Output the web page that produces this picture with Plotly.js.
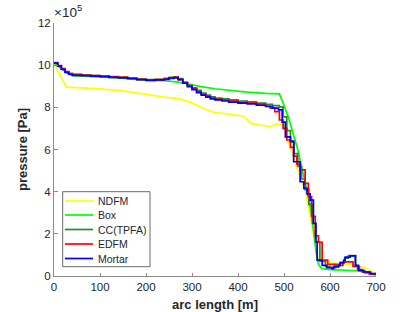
<!DOCTYPE html>
<html>
<head>
<meta charset="utf-8">
<script src="https://cdn.plot.ly/plotly-3.0.1.min.js"></script>
<style>
html,body{margin:0;padding:0;background:#fff;}
#chart{width:415px;height:312px;}
</style>
</head>
<body>
<div id="chart"></div>
<script>
// ---- data (pressure in units of 1e5 Pa) ----
var seriesNames = ["NDFM", "Box", "CC(TPFA)", "EDFM", "Mortar"];

var ndfmX = [0, 5, 27, 60, 100, 150, 200, 240, 275, 300, 320, 345, 380, 412, 420, 428, 450, 470, 483, 500, 503, 515, 530, 546, 556, 566, 575, 585, 600, 625, 650, 675, 690, 700];
var ndfmY = [10.1, 9.85, 8.96, 8.92, 8.88, 8.78, 8.6, 8.48, 8.4, 8.2, 8.0, 7.78, 7.68, 7.58, 7.4, 7.24, 7.15, 7.08, 7.2, 7.16, 6.8, 6.0, 5.0, 4.07, 3.0, 1.8, 0.75, 0.65, 0.62, 0.58, 0.5, 0.4, 0.22, 0.12];

var boxX = [0, 10, 20, 30, 40, 60, 100, 150, 200, 240, 270, 290, 320, 350, 380, 420, 460, 490, 500, 510, 520, 530, 540, 553, 560, 565, 570, 575, 582, 600, 660, 685, 700];
var boxY = [10.1, 9.92, 9.75, 9.6, 9.5, 9.48, 9.45, 9.38, 9.28, 9.26, 9.2, 9.1, 8.98, 8.88, 8.8, 8.72, 8.66, 8.64, 8.1, 7.5, 6.75, 6.0, 5.0, 3.76, 2.9, 2.0, 1.1, 0.55, 0.35, 0.3, 0.25, 0.15, 0.05];

var ccX = [0, 8, 16, 24, 32, 40, 60, 80, 100, 120, 140, 160, 180, 200, 220, 240, 250, 260, 270, 280, 290, 300, 310, 320, 330, 340, 350, 365, 380, 400, 420, 440, 460, 475, 490, 498, 506, 514, 522, 530, 538, 546, 554, 562, 570, 578, 590, 600, 612, 622, 632, 640, 656, 664, 676, 688, 700];
var ccY = [10.1, 9.96, 9.82, 9.68, 9.6, 9.56, 9.53, 9.51, 9.49, 9.46, 9.43, 9.39, 9.34, 9.31, 9.33, 9.38, 9.42, 9.45, 9.36, 9.2, 9.06, 8.93, 8.8, 8.68, 8.58, 8.5, 8.44, 8.4, 8.35, 8.3, 8.26, 8.2, 8.14, 8.08, 8.02, 7.55, 6.9, 6.35, 5.8, 5.2, 4.6, 4.1, 3.4, 2.5, 1.6, 0.7, 0.45, 0.4, 0.55, 0.65, 0.85, 0.97, 0.45, 0.25, 0.15, 0.08, 0.05];

var edfmX = [0, 8, 16, 24, 32, 40, 60, 80, 100, 120, 140, 160, 180, 200, 220, 240, 250, 260, 270, 280, 290, 300, 310, 320, 330, 340, 350, 365, 380, 400, 420, 440, 460, 470, 480, 490, 498, 506, 514, 521, 528, 535, 546, 553, 560, 568, 575, 583, 595, 610, 628, 650, 660, 670, 685, 700];
var edfmY = [10.12, 9.98, 9.84, 9.7, 9.6, 9.55, 9.52, 9.5, 9.48, 9.45, 9.42, 9.38, 9.33, 9.3, 9.31, 9.35, 9.4, 9.42, 9.3, 9.16, 9.0, 8.88, 8.74, 8.62, 8.52, 8.44, 8.38, 8.34, 8.3, 8.24, 8.2, 8.14, 8.06, 7.96, 7.8, 7.4, 7.0, 6.45, 6.1, 5.69, 5.3, 5.03, 4.39, 3.76, 2.83, 1.9, 1.6, 0.75, 0.55, 0.5, 0.67, 0.45, 0.3, 0.2, 0.1, 0.05];

var mortarX = [0, 8, 16, 24, 32, 40, 60, 80, 100, 120, 140, 160, 180, 200, 220, 240, 250, 260, 270, 280, 290, 300, 310, 320, 330, 340, 350, 365, 380, 400, 420, 440, 460, 475, 488, 496, 503, 514, 521, 535, 543, 550, 557, 564, 569, 572, 583, 593, 604, 608, 619, 622, 630, 633, 644, 655, 662, 673, 688, 700];
var mortarY = [10.1, 9.95, 9.8, 9.66, 9.57, 9.52, 9.5, 9.48, 9.45, 9.42, 9.4, 9.36, 9.31, 9.28, 9.3, 9.33, 9.37, 9.4, 9.32, 9.15, 8.98, 8.84, 8.7, 8.58, 8.48, 8.4, 8.35, 8.3, 8.25, 8.2, 8.16, 8.1, 8.04, 7.96, 7.88, 7.3, 6.6, 6.4, 5.42, 4.47, 4.16, 3.9, 3.6, 2.49, 1.62, 0.75, 0.5, 0.4, 0.35, 0.43, 0.5, 0.62, 0.75, 0.9, 0.95, 0.5, 0.27, 0.19, 0.11, 0.08];

var xTicks = [0, 100, 200, 300, 400, 500, 600, 700];
var yTicks = [0, 2, 4, 6, 8, 10, 12];

// ---- styles ----
var colors = ["#ffff00", "#00ff00", "#2a8a2a", "#ff0000", "#0000ff"];
var shapesLine = ["linear", "linear", "hv", "hv", "hv"];
var xs = [ndfmX, boxX, ccX, edfmX, mortarX];
var ys = [ndfmY, boxY, ccY, edfmY, mortarY];

var traces = seriesNames.map(function (n, i) {
  return {
    type: "scatter", mode: "lines", name: n,
    x: xs[i], y: ys[i],
    line: {color: colors[i], width: 1.7, shape: shapesLine[i]},
    showlegend: false, hoverinfo: "skip"
  };
});

var W = 415, H = 312, mL = 54, mR = 39, mT = 23, mB = 36;
var pw = W - mL - mR, ph = H - mT - mB;
function px(x) { return (x - mL) / pw; }
function py(y) { return (H - mB - y) / ph; }

var font = "'Liberation Sans', Arial, Helvetica, sans-serif";
var axisGray = "#8c8c8c";
var textCol = "#262626";

// manual MATLAB-like legend
var shapes = [{
  type: "rect", xref: "paper", yref: "paper",
  x0: px(62.7), x1: px(150), y0: py(266.7), y1: py(191.7),
  line: {color: "#6a6a6a", width: 1}, fillcolor: "#ffffff", layer: "above"
}];
var annotations = [];
var entryY = [201, 215, 229.5, 244, 258.5];
seriesNames.forEach(function (n, i) {
  shapes.push({
    type: "line", xref: "paper", yref: "paper",
    x0: px(65), x1: px(93), y0: py(entryY[i]), y1: py(entryY[i]),
    line: {color: colors[i], width: 1.7}, layer: "above"
  });
  annotations.push({
    xref: "paper", yref: "paper", x: px(96), y: py(entryY[i]),
    xanchor: "left", yanchor: "middle", showarrow: false,
    text: n, font: {family: font, size: 10.5, color: textCol}
  });
});
annotations.push({
  xref: "paper", yref: "paper", x: px(52), y: py(22),
  xanchor: "left", yanchor: "bottom", showarrow: false,
  text: "×10<sup>5</sup>", font: {family: font, size: 13.5, color: textCol}
});

var layout = {
  width: W, height: H,
  margin: {l: mL, r: mR, t: mT, b: mB, pad: 0},
  paper_bgcolor: "#ffffff", plot_bgcolor: "#ffffff",
  showlegend: false,
  font: {family: font, size: 11.5, color: textCol},
  xaxis: {
    range: [0, 700], tickvals: xTicks, ticktext: xTicks.map(String),
    showgrid: false, zeroline: false, showline: true, linecolor: axisGray, linewidth: 1,
    ticks: "inside", ticklen: 3.5, tickcolor: axisGray, tickwidth: 1,
    tickfont: {family: font, size: 11.5, color: textCol},
    title: {text: "<b>arc length [m]</b>", font: {family: font, size: 13, color: textCol}, standoff: 10},
    automargin: false
  },
  yaxis: {
    range: [0, 12], tickvals: yTicks, ticktext: yTicks.map(String),
    showgrid: false, zeroline: false, showline: true, linecolor: axisGray, linewidth: 1,
    ticks: "inside", ticklen: 3.5, tickcolor: axisGray, tickwidth: 1,
    tickfont: {family: font, size: 11.5, color: textCol},
    title: {text: "<b>pressure [Pa]</b>", font: {family: font, size: 13, color: textCol}, standoff: 7},
    automargin: false
  },
  shapes: shapes,
  annotations: annotations
};

Plotly.newPlot("chart", traces, layout, {staticPlot: true, displayModeBar: false});
</script>
</body>
</html>
